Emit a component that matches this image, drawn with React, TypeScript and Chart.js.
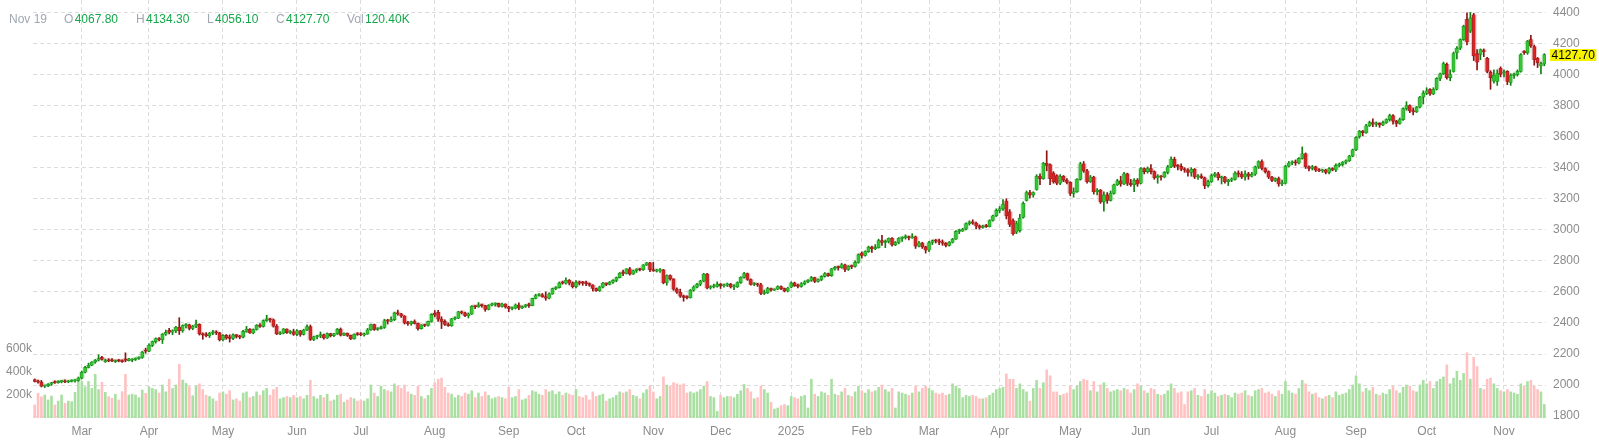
import React, { useEffect, useRef } from "react";
import { Chart, registerables } from "chart.js";

Chart.register(...registerables);

// [day, open, high, low, close, volume (k)]
const d2024_02 = [
  [9, 2034, 2040, 2020, 2024, 116], [12, 2024, 2032, 2012, 2019, 217], [13, 2019, 2030, 1988, 1993, 188],
  [14, 1993, 2000, 1984, 1995, 203], [15, 1995, 2010, 1990, 2006, 160], [16, 2006, 2018, 1998, 2014, 194],
  [20, 2018, 2028, 2010, 2015, 116], [21, 2015, 2028, 2012, 2024, 150], [22, 2022, 2030, 2014, 2026, 203],
  [23, 2026, 2034, 2016, 2020, 130], [26, 2020, 2030, 2015, 2024, 150], [27, 2024, 2034, 2020, 2027, 145],
  [28, 2027, 2036, 2018, 2030, 226], [29, 2030, 2052, 2024, 2045, 320],
];
const d2024_03 = [
  [1, 2045, 2090, 2040, 2083, 320], [4, 2083, 2120, 2078, 2114, 275], [5, 2114, 2141, 2110, 2128, 320],
  [6, 2128, 2152, 2125, 2148, 260], [7, 2148, 2165, 2140, 2160, 383], [8, 2160, 2195, 2155, 2170, 250],
  [11, 2178, 2185, 2160, 2165, 313], [12, 2150, 2168, 2146, 2158, 226], [13, 2160, 2170, 2150, 2156, 188],
  [14, 2162, 2170, 2150, 2155, 174], [15, 2150, 2162, 2145, 2158, 210], [18, 2160, 2166, 2150, 2155, 160],
  [19, 2158, 2162, 2146, 2150, 232], [20, 2165, 2208, 2150, 2160, 383], [21, 2158, 2172, 2155, 2168, 203],
  [22, 2160, 2170, 2150, 2165, 210], [25, 2165, 2175, 2158, 2172, 203], [26, 2172, 2182, 2166, 2178, 180],
  [27, 2178, 2218, 2172, 2212, 246], [28, 2222, 2238, 2205, 2218, 217],
];
const d2024_04 = [
  [1, 2218, 2265, 2215, 2256, 275], [2, 2256, 2284, 2248, 2280, 260], [3, 2280, 2304, 2270, 2300, 250],
  [4, 2300, 2306, 2284, 2292, 220], [5, 2292, 2332, 2268, 2328, 290], [8, 2328, 2354, 2320, 2339, 230],
  [9, 2352, 2365, 2330, 2340, 340], [10, 2340, 2356, 2325, 2350, 260], [11, 2350, 2378, 2338, 2372, 290],
  [12, 2372, 2434, 2326, 2350, 470], [15, 2350, 2388, 2340, 2383, 333], [16, 2383, 2396, 2368, 2388, 304],
  [17, 2388, 2392, 2355, 2365, 275], [18, 2365, 2385, 2356, 2379, 197], [19, 2379, 2418, 2370, 2392, 280],
  [22, 2392, 2395, 2322, 2330, 300], [23, 2330, 2336, 2295, 2323, 250], [24, 2323, 2338, 2310, 2318, 200],
  [25, 2318, 2340, 2306, 2334, 190], [26, 2334, 2352, 2325, 2338, 170], [29, 2338, 2350, 2325, 2336, 150],
  [30, 2336, 2340, 2284, 2292, 220],
];
const d2024_05 = [
  [1, 2292, 2326, 2285, 2320, 230], [2, 2320, 2326, 2295, 2303, 210], [3, 2303, 2324, 2277, 2301, 240],
  [6, 2301, 2330, 2292, 2323, 160], [7, 2323, 2326, 2303, 2314, 170], [8, 2314, 2320, 2298, 2309, 150],
  [9, 2309, 2352, 2304, 2346, 220], [10, 2346, 2378, 2340, 2360, 230], [13, 2360, 2364, 2332, 2336, 180],
  [14, 2336, 2362, 2330, 2358, 190], [15, 2358, 2390, 2354, 2385, 230], [16, 2385, 2396, 2372, 2377, 200],
  [17, 2377, 2420, 2373, 2415, 240], [20, 2415, 2450, 2410, 2425, 260], [21, 2425, 2430, 2405, 2421, 200],
  [22, 2421, 2426, 2373, 2379, 250], [23, 2379, 2390, 2325, 2329, 270], [24, 2329, 2345, 2325, 2334, 170],
  [28, 2334, 2365, 2330, 2361, 180], [29, 2361, 2362, 2332, 2338, 190], [30, 2338, 2352, 2330, 2343, 180],
  [31, 2343, 2360, 2320, 2327, 200],
];
const d2024_06 = [
  [3, 2327, 2357, 2318, 2350, 180], [4, 2350, 2352, 2314, 2327, 190], [5, 2327, 2360, 2322, 2355, 170],
  [6, 2355, 2388, 2350, 2376, 200], [7, 2376, 2387, 2287, 2294, 330], [10, 2294, 2315, 2286, 2311, 190],
  [11, 2311, 2320, 2298, 2316, 170], [12, 2316, 2342, 2305, 2324, 200], [13, 2324, 2328, 2295, 2303, 180],
  [14, 2303, 2336, 2300, 2332, 210], [17, 2332, 2334, 2310, 2319, 150], [18, 2319, 2334, 2312, 2330, 160],
  [20, 2330, 2365, 2326, 2360, 200], [21, 2360, 2368, 2316, 2322, 210], [24, 2322, 2336, 2318, 2334, 140],
  [25, 2334, 2336, 2313, 2320, 160], [26, 2320, 2322, 2293, 2298, 180], [27, 2298, 2330, 2295, 2327, 170],
  [28, 2327, 2338, 2320, 2326, 150],
];
const d2024_07 = [
  [1, 2326, 2338, 2318, 2323, 160], [2, 2323, 2335, 2315, 2329, 150], [3, 2329, 2365, 2326, 2356, 170],
  [5, 2356, 2393, 2352, 2390, 290], [8, 2390, 2393, 2352, 2358, 220], [9, 2358, 2370, 2352, 2364, 190],
  [10, 2364, 2380, 2360, 2371, 280], [11, 2371, 2424, 2365, 2414, 250], [12, 2414, 2424, 2393, 2411, 240],
  [15, 2411, 2440, 2409, 2422, 230], [16, 2422, 2470, 2415, 2465, 300], [17, 2465, 2483, 2450, 2459, 280],
  [18, 2459, 2462, 2436, 2445, 260], [19, 2445, 2448, 2393, 2400, 290], [22, 2400, 2410, 2384, 2396, 230],
  [23, 2396, 2412, 2385, 2409, 210], [24, 2409, 2420, 2393, 2397, 200], [25, 2397, 2400, 2353, 2364, 280],
  [26, 2364, 2390, 2360, 2387, 190], [29, 2387, 2392, 2376, 2384, 170], [30, 2384, 2412, 2380, 2410, 200],
  [31, 2410, 2460, 2405, 2455, 260],
];
const d2024_08 = [
  [1, 2462, 2480, 2440, 2452, 310], [2, 2468, 2482, 2410, 2425, 340], [5, 2425, 2440, 2364, 2410, 350],
  [6, 2410, 2420, 2385, 2390, 270], [7, 2390, 2400, 2378, 2382, 220], [8, 2382, 2430, 2378, 2427, 210],
  [9, 2427, 2440, 2420, 2431, 180], [12, 2431, 2475, 2428, 2472, 200], [13, 2472, 2477, 2458, 2465, 190],
  [14, 2465, 2470, 2440, 2447, 220], [15, 2447, 2465, 2432, 2458, 210], [16, 2458, 2512, 2454, 2508, 240],
  [19, 2508, 2512, 2492, 2505, 180], [20, 2505, 2532, 2500, 2516, 220], [21, 2516, 2522, 2502, 2512, 190],
  [22, 2512, 2514, 2475, 2488, 230], [23, 2488, 2518, 2484, 2515, 200], [26, 2515, 2528, 2510, 2520, 170],
  [27, 2520, 2530, 2508, 2526, 180], [28, 2526, 2528, 2502, 2506, 190], [29, 2506, 2528, 2502, 2522, 180],
  [30, 2522, 2524, 2496, 2504, 170],
];
const d2024_09 = [
  [3, 2504, 2508, 2472, 2493, 270], [4, 2493, 2503, 2484, 2495, 180], [5, 2495, 2523, 2490, 2516, 190],
  [6, 2516, 2529, 2485, 2497, 250], [9, 2497, 2510, 2492, 2506, 160], [10, 2506, 2520, 2500, 2516, 170],
  [11, 2516, 2528, 2500, 2512, 200], [12, 2512, 2560, 2510, 2558, 240], [13, 2558, 2585, 2555, 2577, 230],
  [16, 2577, 2590, 2572, 2582, 210], [17, 2582, 2590, 2565, 2569, 200], [18, 2569, 2600, 2546, 2559, 250],
  [19, 2559, 2594, 2555, 2587, 230], [20, 2587, 2625, 2584, 2621, 240], [23, 2621, 2634, 2614, 2628, 210],
  [24, 2628, 2664, 2625, 2657, 230], [25, 2658, 2670, 2650, 2656, 200], [26, 2656, 2690, 2650, 2675, 220],
  [27, 2675, 2680, 2645, 2658, 210], [30, 2658, 2665, 2625, 2634, 200],
];
const d2024_10 = [
  [1, 2634, 2673, 2625, 2663, 250], [2, 2663, 2670, 2645, 2657, 190], [3, 2657, 2668, 2642, 2656, 180],
  [4, 2656, 2670, 2640, 2653, 200], [7, 2653, 2658, 2636, 2644, 160], [8, 2644, 2647, 2605, 2622, 230],
  [9, 2622, 2625, 2604, 2608, 190], [10, 2608, 2637, 2603, 2631, 200], [11, 2631, 2662, 2626, 2657, 210],
  [14, 2657, 2658, 2640, 2649, 150], [15, 2649, 2668, 2645, 2662, 170], [16, 2662, 2680, 2655, 2674, 180],
  [17, 2674, 2696, 2665, 2692, 200], [18, 2692, 2725, 2690, 2721, 230], [21, 2721, 2740, 2705, 2719, 220],
  [22, 2719, 2750, 2715, 2748, 230], [23, 2748, 2758, 2708, 2715, 250], [24, 2715, 2740, 2712, 2736, 200],
  [25, 2736, 2750, 2725, 2747, 190], [28, 2747, 2752, 2735, 2743, 170], [29, 2743, 2776, 2738, 2774, 220],
  [30, 2774, 2790, 2770, 2788, 250], [31, 2788, 2790, 2730, 2743, 280],
];
const d2024_11 = [
  [1, 2743, 2790, 2732, 2736, 230], [4, 2734, 2746, 2728, 2736, 170], [5, 2736, 2750, 2726, 2742, 190],
  [6, 2742, 2745, 2652, 2659, 360], [7, 2659, 2710, 2643, 2706, 290], [8, 2706, 2710, 2675, 2684, 280],
  [11, 2684, 2685, 2610, 2618, 310], [12, 2618, 2626, 2590, 2598, 300], [13, 2598, 2618, 2565, 2573, 290],
  [14, 2573, 2580, 2540, 2565, 300], [15, 2565, 2575, 2555, 2563, 220], [18, 2563, 2616, 2560, 2611, 230],
  [19, 2611, 2640, 2605, 2631, 220], [20, 2631, 2655, 2625, 2650, 230], [21, 2650, 2675, 2640, 2670, 250],
  [22, 2670, 2720, 2665, 2715, 280], [25, 2715, 2720, 2620, 2625, 320], [26, 2625, 2640, 2618, 2633, 190],
  [27, 2633, 2650, 2625, 2635, 180], [29, 2635, 2665, 2630, 2650, 60],
];
const d2024_12 = [
  [2, 2650, 2654, 2622, 2639, 200], [3, 2639, 2650, 2630, 2643, 180], [4, 2643, 2657, 2635, 2650, 190],
  [5, 2650, 2655, 2625, 2632, 190], [6, 2632, 2648, 2615, 2633, 180], [9, 2633, 2665, 2628, 2660, 210],
  [10, 2660, 2698, 2655, 2694, 240], [11, 2694, 2726, 2688, 2718, 295], [12, 2718, 2722, 2674, 2680, 260],
  [13, 2680, 2685, 2644, 2648, 230], [16, 2648, 2660, 2640, 2652, 170], [17, 2652, 2655, 2635, 2646, 180],
  [18, 2646, 2656, 2583, 2590, 280], [19, 2590, 2612, 2583, 2594, 250], [20, 2594, 2630, 2590, 2622, 220],
  [23, 2622, 2625, 2605, 2612, 140], [24, 2612, 2620, 2608, 2617, 80], [26, 2617, 2640, 2615, 2635, 90],
  [27, 2635, 2640, 2615, 2621, 110], [30, 2621, 2625, 2600, 2606, 120], [31, 2606, 2630, 2600, 2625, 110],
];
const d2025_01 = [
  [2, 2630, 2665, 2628, 2658, 190], [3, 2658, 2663, 2635, 2640, 180], [6, 2640, 2650, 2625, 2636, 170],
  [7, 2636, 2660, 2630, 2652, 190], [8, 2652, 2672, 2645, 2665, 200], [9, 2665, 2680, 2660, 2675, 90],
  [10, 2675, 2700, 2668, 2692, 340], [13, 2692, 2695, 2660, 2668, 210], [14, 2668, 2685, 2662, 2680, 190],
  [15, 2680, 2705, 2672, 2700, 230], [16, 2700, 2725, 2695, 2718, 220], [17, 2718, 2722, 2700, 2705, 200],
  [21, 2705, 2752, 2700, 2748, 340], [22, 2748, 2765, 2740, 2758, 210], [23, 2758, 2766, 2740, 2756, 200],
  [24, 2756, 2785, 2752, 2775, 230], [27, 2775, 2780, 2730, 2745, 260], [28, 2745, 2770, 2738, 2765, 200],
  [29, 2765, 2772, 2750, 2763, 190], [30, 2765, 2800, 2760, 2790, 230], [31, 2790, 2845, 2785, 2840, 280],
];
const d2025_02 = [
  [3, 2850, 2858, 2818, 2835, 240], [4, 2835, 2865, 2830, 2860, 220], [5, 2860, 2895, 2855, 2888, 250],
  [6, 2888, 2895, 2855, 2878, 230], [7, 2878, 2905, 2872, 2885, 240], [10, 2885, 2940, 2882, 2930, 270],
  [11, 2930, 2965, 2900, 2918, 290], [12, 2918, 2935, 2885, 2925, 250], [13, 2925, 2948, 2915, 2945, 230],
  [14, 2945, 2950, 2895, 2903, 260], [17, 2903, 2925, 2898, 2918, 90], [18, 2918, 2950, 2910, 2945, 230],
  [19, 2945, 2955, 2925, 2950, 220], [20, 2950, 2968, 2940, 2955, 210], [21, 2955, 2960, 2935, 2948, 200],
  [24, 2948, 2975, 2945, 2955, 220], [25, 2955, 2960, 2880, 2895, 280], [26, 2895, 2925, 2890, 2915, 230],
  [27, 2915, 2920, 2880, 2890, 260], [28, 2890, 2895, 2850, 2870, 280],
];
const d2025_03 = [
  [3, 2870, 2925, 2860, 2918, 260], [4, 2918, 2935, 2905, 2930, 240], [5, 2930, 2938, 2915, 2928, 220],
  [6, 2928, 2940, 2905, 2920, 210], [7, 2920, 2935, 2900, 2914, 220], [10, 2914, 2918, 2890, 2900, 200],
  [11, 2900, 2925, 2895, 2920, 210], [12, 2920, 2945, 2915, 2940, 300], [13, 2940, 2995, 2938, 2990, 280],
  [14, 2990, 3004, 2975, 2992, 260], [17, 2992, 3010, 2990, 3005, 180], [18, 3005, 3045, 3000, 3040, 200],
  [19, 3040, 3058, 3030, 3045, 190], [20, 3045, 3065, 3035, 3043, 200], [21, 3043, 3050, 3005, 3025, 190],
  [24, 3025, 3032, 3005, 3015, 170], [25, 3015, 3030, 3010, 3022, 170], [26, 3022, 3035, 3015, 3020, 180],
  [27, 3020, 3065, 3018, 3060, 200], [28, 3060, 3095, 3055, 3090, 220], [31, 3090, 3135, 3085, 3125, 250],
];
const d2025_04 = [
  [1, 3125, 3150, 3110, 3135, 260], [2, 3135, 3195, 3125, 3165, 270], [3, 3185, 3200, 3070, 3090, 385],
  [4, 3115, 3130, 3020, 3035, 340], [7, 3060, 3070, 2965, 2975, 340], [8, 2985, 3055, 2975, 3040, 260],
  [9, 2995, 3100, 2985, 3075, 300], [10, 3080, 3180, 3075, 3170, 250], [11, 3190, 3250, 3185, 3240, 230],
  [14, 3240, 3255, 3205, 3225, 150], [15, 3225, 3245, 3210, 3240, 260], [16, 3260, 3355, 3255, 3345, 330],
  [17, 3345, 3360, 3290, 3330, 260], [21, 3330, 3435, 3325, 3428, 310], [22, 3428, 3509, 3380, 3415, 420],
  [23, 3420, 3425, 3290, 3330, 370], [24, 3365, 3375, 3300, 3310, 230], [25, 3350, 3355, 3290, 3300, 230],
  [28, 3300, 3355, 3290, 3345, 200], [29, 3345, 3350, 3310, 3320, 210], [30, 3320, 3330, 3295, 3305, 220],
];
const d2025_05 = [
  [1, 3305, 3310, 3220, 3235, 280], [2, 3235, 3270, 3210, 3245, 250], [5, 3245, 3330, 3240, 3325, 280],
  [6, 3325, 3435, 3320, 3425, 320], [7, 3425, 3440, 3370, 3380, 340], [8, 3380, 3390, 3300, 3310, 330],
  [9, 3310, 3350, 3305, 3340, 240], [12, 3340, 3345, 3230, 3245, 320], [13, 3245, 3265, 3225, 3255, 230],
  [14, 3255, 3260, 3170, 3180, 290], [15, 3180, 3245, 3120, 3225, 310], [16, 3225, 3240, 3170, 3190, 260],
  [19, 3190, 3250, 3185, 3235, 230], [20, 3235, 3295, 3230, 3290, 240], [21, 3290, 3325, 3285, 3315, 250],
  [22, 3315, 3345, 3280, 3295, 240], [23, 3295, 3370, 3290, 3360, 260], [27, 3360, 3365, 3285, 3300, 250],
  [28, 3300, 3325, 3280, 3290, 220], [29, 3290, 3330, 3245, 3320, 250], [30, 3320, 3330, 3280, 3295, 300],
];
const d2025_06 = [
  [2, 3300, 3400, 3295, 3395, 280], [3, 3395, 3400, 3360, 3375, 240], [4, 3375, 3405, 3365, 3395, 220],
  [5, 3395, 3420, 3360, 3375, 260], [6, 3375, 3380, 3325, 3335, 250], [9, 3335, 3355, 3300, 3345, 210],
  [10, 3345, 3350, 3320, 3340, 200], [11, 3340, 3375, 3335, 3370, 210], [12, 3370, 3415, 3360, 3405, 240],
  [13, 3405, 3470, 3400, 3455, 300], [16, 3455, 3468, 3400, 3410, 260], [17, 3410, 3420, 3385, 3408, 220],
  [18, 3408, 3425, 3380, 3390, 230], [19, 3390, 3400, 3370, 3385, 120], [20, 3385, 3395, 3345, 3370, 230],
  [23, 3370, 3400, 3345, 3390, 240], [24, 3390, 3395, 3330, 3340, 260], [25, 3340, 3355, 3325, 3345, 200],
  [26, 3345, 3360, 3330, 3335, 190], [27, 3335, 3340, 3265, 3285, 250], [30, 3285, 3320, 3275, 3310, 210],
];
const d2025_07 = [
  [1, 3310, 3360, 3305, 3350, 240], [2, 3350, 3370, 3340, 3360, 220], [3, 3360, 3370, 3320, 3335, 190],
  [7, 3335, 3345, 3295, 3340, 200], [8, 3340, 3345, 3300, 3310, 210], [9, 3310, 3325, 3285, 3320, 200],
  [10, 3320, 3335, 3310, 3325, 180], [11, 3325, 3375, 3320, 3365, 220], [14, 3365, 3380, 3340, 3358, 210],
  [15, 3358, 3375, 3330, 3340, 220], [16, 3340, 3380, 3320, 3360, 240], [17, 3360, 3370, 3325, 3345, 200],
  [18, 3345, 3370, 3340, 3358, 190], [21, 3358, 3410, 3350, 3405, 240], [22, 3405, 3445, 3395, 3440, 250],
  [23, 3440, 3450, 3385, 3395, 260], [24, 3395, 3400, 3365, 3375, 220], [25, 3375, 3380, 3330, 3340, 230],
  [28, 3340, 3345, 3310, 3318, 210], [29, 3318, 3335, 3310, 3330, 190], [30, 3330, 3340, 3280, 3295, 240],
  [31, 3295, 3320, 3285, 3300, 210],
];
const d2025_08 = [
  [1, 3300, 3415, 3295, 3410, 320], [4, 3410, 3440, 3405, 3430, 240], [5, 3430, 3445, 3420, 3435, 220],
  [6, 3435, 3450, 3415, 3430, 210], [7, 3430, 3465, 3425, 3460, 260], [8, 3460, 3534, 3455, 3490, 330],
  [11, 3490, 3495, 3395, 3405, 300], [12, 3405, 3412, 3380, 3395, 230], [13, 3395, 3415, 3385, 3405, 210],
  [14, 3405, 3410, 3375, 3385, 220], [15, 3385, 3395, 3375, 3380, 180], [18, 3380, 3390, 3370, 3385, 170],
  [19, 3385, 3390, 3360, 3370, 190], [20, 3370, 3400, 3360, 3395, 200], [21, 3395, 3400, 3380, 3385, 180],
  [22, 3385, 3425, 3375, 3415, 230], [25, 3415, 3430, 3405, 3420, 200], [26, 3420, 3440, 3410, 3435, 210],
  [27, 3435, 3450, 3425, 3445, 220], [28, 3445, 3480, 3440, 3475, 250], [29, 3475, 3520, 3470, 3515, 290],
];
const d2025_09 = [
  [2, 3515, 3600, 3510, 3595, 370], [3, 3600, 3640, 3590, 3635, 300], [4, 3635, 3640, 3605, 3625, 230],
  [5, 3625, 3680, 3620, 3670, 260], [8, 3670, 3700, 3665, 3690, 240], [9, 3690, 3715, 3665, 3680, 270],
  [10, 3680, 3695, 3665, 3685, 210], [11, 3685, 3690, 3660, 3675, 200], [12, 3675, 3700, 3670, 3690, 220],
  [15, 3690, 3715, 3685, 3710, 210], [16, 3710, 3745, 3700, 3735, 250], [17, 3735, 3742, 3680, 3700, 280],
  [18, 3700, 3705, 3665, 3685, 240], [19, 3685, 3720, 3680, 3710, 220], [22, 3710, 3785, 3705, 3780, 270],
  [23, 3780, 3825, 3770, 3800, 290], [24, 3800, 3805, 3755, 3765, 280], [25, 3765, 3785, 3740, 3760, 240],
  [26, 3760, 3795, 3755, 3790, 230], [29, 3790, 3860, 3785, 3855, 290], [30, 3855, 3895, 3810, 3880, 330],
];
const d2025_10 = [
  [1, 3880, 3915, 3870, 3895, 300], [2, 3905, 3910, 3865, 3875, 320], [3, 3875, 3915, 3870, 3905, 260],
  [6, 3905, 3980, 3900, 3975, 320], [7, 3975, 4010, 3960, 4005, 340], [8, 4005, 4080, 4000, 4070, 360],
  [9, 4065, 4075, 3970, 3980, 465], [10, 3980, 4030, 3960, 4000, 300], [13, 4020, 4145, 4015, 4135, 350],
  [14, 4140, 4180, 4100, 4170, 410], [15, 4170, 4230, 4160, 4225, 330], [16, 4225, 4318, 4220, 4310, 390],
  [17, 4355, 4398, 4190, 4210, 570], [20, 4280, 4400, 4270, 4365, 340], [21, 4385, 4395, 4090, 4120, 530],
  [22, 4135, 4160, 4030, 4080, 450], [23, 4130, 4165, 4095, 4160, 260], [24, 4152, 4165, 4115, 4148, 250],
  [27, 4105, 4110, 4010, 4020, 340], [28, 4015, 4025, 3905, 3980, 350], [29, 3958, 4030, 3945, 3995, 300],
  [30, 3955, 4030, 3930, 4008, 260], [31, 4040, 4050, 3985, 4000, 240],
];
const d2025_11 = [
  [3, 4010, 4030, 3985, 4012, 230], [4, 4020, 4025, 3935, 3955, 250], [5, 3950, 4005, 3930, 3995, 230],
  [6, 3995, 4010, 3975, 4002, 220], [7, 4000, 4030, 3990, 4020, 210], [10, 4020, 4135, 4015, 4128, 300],
  [11, 4150, 4155, 4130, 4140, 280], [12, 4140, 4220, 4130, 4215, 320], [13, 4225, 4252, 4175, 4185, 330],
  [14, 4180, 4190, 4060, 4095, 280], [17, 4105, 4110, 4045, 4075, 250], [18, 4055, 4080, 4005, 4070, 230],
  [19, 4067.8, 4134.3, 4056.1, 4127.7, 120.4],
];

const MONTHS = ["Jan", "Feb", "Mar", "Apr", "May", "Jun", "Jul", "Aug", "Sep", "Oct", "Nov", "Dec"];
const priceTicks = [1800, 2000, 2200, 2400, 2600, 2800, 3000, 3200, 3400, 3600, 3800, 4000, 4200, 4400];
const volumeTicks = [200, 400, 600];

const monthSeries: [number, number, number[][]][] = [
  [2024, 2, d2024_02], [2024, 3, d2024_03], [2024, 4, d2024_04], [2024, 5, d2024_05],
  [2024, 6, d2024_06], [2024, 7, d2024_07], [2024, 8, d2024_08], [2024, 9, d2024_09],
  [2024, 10, d2024_10], [2024, 11, d2024_11], [2024, 12, d2024_12], [2025, 1, d2025_01],
  [2025, 2, d2025_02], [2025, 3, d2025_03], [2025, 4, d2025_04], [2025, 5, d2025_05],
  [2025, 6, d2025_06], [2025, 7, d2025_07], [2025, 8, d2025_08], [2025, 9, d2025_09],
  [2025, 10, d2025_10], [2025, 11, d2025_11],
];

const rows = monthSeries.flatMap(([y, m, arr]) =>
  arr.map((r) => ({ y, m, d: r[0], o: r[1], h: r[2], l: r[3], c: r[4], v: r[5] }))
);

const FONT = '"Liberation Sans", Arial, Helvetica, sans-serif';
const AXIS_COLOR = "#8c8c8c";
const GRID_COLOR = "#dcdcdc";
const UP_BODY = "#33c833";
const UP_EDGE = "rgba(18,130,18,0.85)";
const UP_WICK = "#137f13";
const UP_HALO = "rgba(60,200,60,0.28)";
const DOWN_BODY = "#d82424";
const DOWN_EDGE = "rgba(140,18,18,0.85)";
const DOWN_WICK = "#8c1414";
const DOWN_HALO = "rgba(210,50,50,0.28)";
const VOL_UP = "#a9e0a2";
const VOL_DOWN = "#ffc1c1";

function noPad(scale: any) {
  scale.paddingTop = 0;
  scale.paddingBottom = 0;
  scale.paddingLeft = 0;
  scale.paddingRight = 0;
}

export default function App() {
  const ref = useRef<HTMLCanvasElement | null>(null);
  const last = rows[rows.length - 1];

  useEffect(() => {
    document.body.style.margin = "0";
    const canvas = ref.current;
    if (!canvas) return;

    const labels = rows.map((r) => `${r.y}-${r.m}-${r.d}`);
    const up = rows.map((r) => r.c >= r.o);
    const bodies = rows.map((r) => [Math.min(r.o, r.c), Math.max(r.o, r.c)]);
    const monthStarts: number[] = [];
    rows.forEach((r, i) => {
      if (i > 0 && rows[i - 1].m !== r.m) monthStarts.push(i);
    });

    const lastPricePlugin = {
      id: "lastPrice",
      afterDraw(chart: any) {
        const { ctx, chartArea, scales } = chart;
        const y = Math.round(scales.y.getPixelForValue(last.c));
        const text = last.c.toFixed(2);
        ctx.save();
        ctx.font = `12px ${FONT}`;
        const w = ctx.measureText(text).width + 3;
        const x = chartArea.right + 4;
        ctx.fillStyle = "#f6f200";
        ctx.fillRect(x, y - 6, w, 12);
        ctx.fillStyle = "#000";
        ctx.textBaseline = "middle";
        ctx.textAlign = "left";
        ctx.fillText(text, x + 1.5, y + 0.5);
        ctx.restore();
      },
    };

    const chart = new Chart(canvas, {
      type: "bar",
      data: {
        labels,
        datasets: [
          {
            label: "Volume",
            data: rows.map((r) => r.v),
            yAxisID: "yv",
            backgroundColor: up.map((u) => (u ? VOL_UP : VOL_DOWN)),
            barPercentage: 0.78,
            categoryPercentage: 1,
            grouped: false,
            order: 4,
          } as any,
          {
            label: "Halo",
            data: bodies,
            yAxisID: "y",
            backgroundColor: up.map((u) => (u ? UP_HALO : DOWN_HALO)),
            barThickness: 5,
            minBarLength: 2,
            grouped: false,
            order: 3,
          } as any,
          {
            label: "Wick",
            data: rows.map((r) => [r.l, r.h]),
            yAxisID: "y",
            backgroundColor: up.map((u) => (u ? UP_WICK : DOWN_WICK)),
            barThickness: 1,
            grouped: false,
            order: 2,
          } as any,
          {
            label: "Body",
            data: bodies,
            yAxisID: "y",
            backgroundColor: up.map((u) => (u ? UP_BODY : DOWN_BODY)),
            borderColor: up.map((u) => (u ? UP_EDGE : DOWN_EDGE)),
            borderWidth: 0.6,
            borderSkipped: false,
            barThickness: 3,
            minBarLength: 1,
            grouped: false,
            order: 1,
          } as any,
        ],
      },
      options: {
        animation: false,
        responsive: false,
        maintainAspectRatio: false,
        devicePixelRatio: 1,
        layout: { padding: 0 },
        plugins: { legend: { display: false }, tooltip: { enabled: false } },
        scales: {
          x: {
            type: "category",
            offset: true,
            grid: { offset: false, color: GRID_COLOR, lineWidth: 1, drawTicks: false },
            border: { display: false, dash: [4, 3] },
            afterBuildTicks: (scale: any) => {
              scale.ticks = monthStarts.map((i) => ({ value: i }));
            },
            afterFit: (scale: any) => {
              scale.height = 29;
              noPad(scale);
            },
            ticks: {
              autoSkip: false,
              maxRotation: 0,
              padding: 6,
              color: AXIS_COLOR,
              font: { size: 12, family: FONT },
              callback: (value: any) => {
                const r = rows[value as number];
                return r.m === 1 ? String(r.y) : MONTHS[r.m - 1];
              },
            },
          },
          y: {
            position: "right",
            min: 1788,
            max: 4480,
            grid: { color: GRID_COLOR, lineWidth: 1, drawTicks: false },
            border: { display: false, dash: [4, 3] },
            afterBuildTicks: (scale: any) => {
              scale.ticks = priceTicks.map((v) => ({ value: v }));
            },
            afterFit: (scale: any) => {
              scale.width = 53;
              noPad(scale);
            },
            ticks: {
              padding: 7,
              color: AXIS_COLOR,
              font: { size: 12, family: FONT },
              callback: (v: any) => String(v),
            },
          },
          yv: {
            position: "left",
            min: 0,
            max: 3635,
            grid: { display: false, drawTicks: false },
            border: { display: false },
            afterBuildTicks: (scale: any) => {
              scale.ticks = volumeTicks.map((v) => ({ value: v }));
            },
            afterFit: (scale: any) => {
              scale.width = 33;
              noPad(scale);
            },
            ticks: {
              padding: 1,
              color: AXIS_COLOR,
              font: { size: 12, family: FONT },
              callback: (v: any) => `${v}k`,
            },
          },
        },
      } as any,
      plugins: [lastPricePlugin],
    });
    return () => chart.destroy();
  }, []);

  const gray = "#a2a7b3";
  const green = "#13a84a";
  const groups = [
    { k: "O", v: last.o.toFixed(2), left: 64 },
    { k: "H", v: last.h.toFixed(2), left: 136 },
    { k: "L", v: last.l.toFixed(2), left: 207 },
    { k: "C", v: last.c.toFixed(2), left: 276 },
    { k: "Vol", v: `${last.v.toFixed(2)}K`, left: 347 },
  ];

  return (
    <div style={{ position: "relative", width: 1599, height: 447, background: "#fff", overflow: "hidden" }}>
      <style>{"body{margin:0}"}</style>
      <canvas ref={ref} width={1599} height={447} style={{ display: "block" }} />
      <div
        style={{
          position: "absolute",
          top: 12,
          left: 0,
          fontFamily: FONT,
          fontSize: 12,
          lineHeight: "14px",
          whiteSpace: "nowrap",
        }}
      >
        <span style={{ position: "absolute", left: 9, color: gray }}>{`${MONTHS[last.m - 1]} ${last.d}`}</span>
        {groups.map((g) => (
          <span key={g.k} style={{ position: "absolute", left: g.left }}>
            <span style={{ color: gray }}>{g.k}</span>
            <span style={{ color: green, marginLeft: 1.3 }}>{g.v}</span>
          </span>
        ))}
      </div>
    </div>
  );
}
